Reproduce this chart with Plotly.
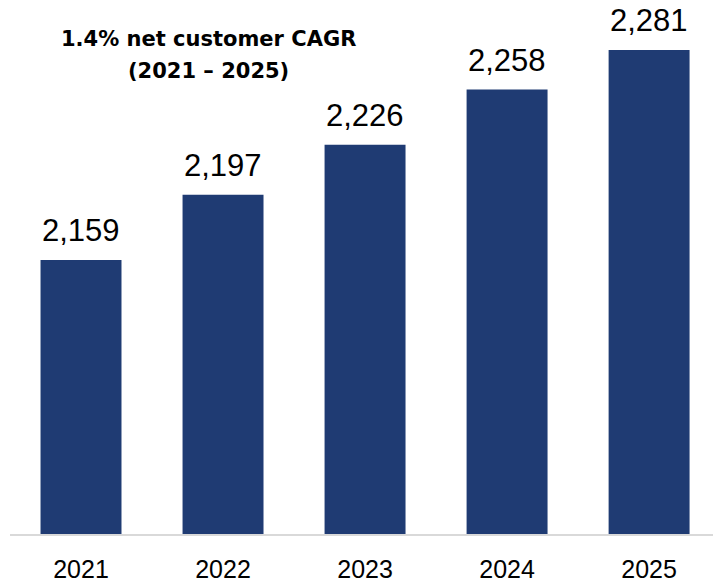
import plotly.graph_objects as go

# customers by year (thousands)
years = ["2021", "2022", "2023", "2024", "2025"]
customers = [2159, 2197, 2226, 2258, 2281]
value_labels = ["2,159", "2,197", "2,226", "2,258", "2,281"]

title_lines = ["1.4% net customer CAGR", "(2021 – 2025)"]

BAR_COLOR = "#1F3B73"
W, H = 713, 583

fig = go.Figure()

fig.add_trace(go.Bar(
    x=years,
    y=customers,
    marker=dict(color=BAR_COLOR, line=dict(width=0)),
    width=0.57,
    hoverinfo="skip",
))

# value labels above each bar (category index so "2021" isn't read as a number)
for i, (val, lab) in enumerate(zip(customers, value_labels)):
    fig.add_annotation(
        x=i, y=val, text=lab,
        showarrow=False,
        xref="x", yref="y",
        yanchor="bottom", yshift=10,
        font=dict(family="Liberation Sans, Arial", size=31, color="black"),
    )

# CAGR callout, one annotation per line to control the spacing
for k, line in enumerate(title_lines):
    fig.add_annotation(
        text=line,
        xref="paper", yref="paper",
        x=0.283, y=1, yshift=-25 - 32 * k,
        xanchor="center", yanchor="top",
        showarrow=False,
        font=dict(family="DejaVu Sans, Inter, Arial", size=21, color="black", weight="bold"),
    )

fig.update_layout(
    width=W, height=H,
    showlegend=False,
    plot_bgcolor="white",
    paper_bgcolor="white",
    margin=dict(l=10, r=0, t=0, b=43),
    bargap=0.43,
    xaxis=dict(
        type="category",
        range=[-0.5, 4.45],
        showgrid=False,
        showline=True,
        linecolor="#D9D9D9",
        linewidth=2,
        ticks="",
        ticklabelstandoff=12,
        tickfont=dict(family="Liberation Sans, Arial", size=25, color="black"),
    ),
    yaxis=dict(
        range=[2000, 2310],
        visible=False,
        showgrid=False,
        zeroline=False,
    ),
)

# drop the default 8px body margin so the figure sits flush in the window
fig.write_html(
    "out.html",
    config={"displayModeBar": False},
    post_script="document.body.style.margin='0';",
)
